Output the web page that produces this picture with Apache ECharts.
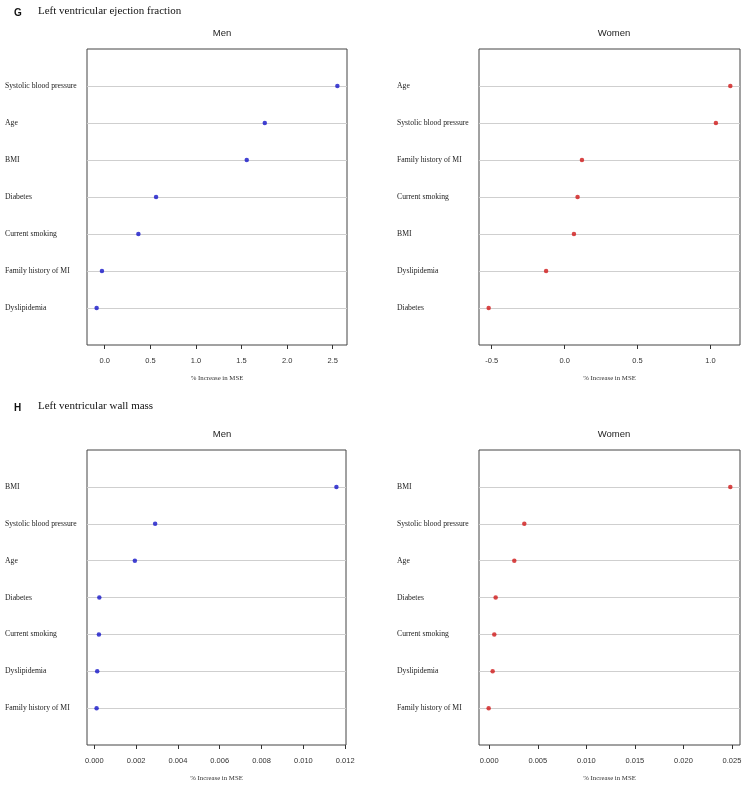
<!DOCTYPE html>
<html>
<head>
<meta charset="utf-8">
<script src="https://cdn.jsdelivr.net/npm/echarts@6/dist/echarts.min.js"></script>
<style>
  html, body { margin: 0; padding: 0; background: #fff; }
  #chart { width: 747px; height: 788px; }
</style>
</head>
<body>
<div id="chart"></div>
<script>
// rows are listed bottom to top (row 1 = bottom line)
var efMenLabels = ['Dyslipidemia', 'Family history of MI', 'Current smoking', 'Diabetes', 'BMI', 'Age', 'Systolic blood pressure'];
var efMenValues = [-0.089, -0.031, 0.369, 0.563, 1.557, 1.755, 2.551];
var efWomenLabels = ['Diabetes', 'Dyslipidemia', 'BMI', 'Current smoking', 'Family history of MI', 'Systolic blood pressure', 'Age'];
var efWomenValues = [-0.521, -0.127, 0.064, 0.089, 0.119, 1.038, 1.137];
var wmMenLabels = ['Family history of MI', 'Dyslipidemia', 'Current smoking', 'Diabetes', 'Age', 'Systolic blood pressure', 'BMI'];
var wmMenValues = [0.00011, 0.00014, 0.00022, 0.00024, 0.00194, 0.00291, 0.01158];
var wmWomenLabels = ['Family history of MI', 'Dyslipidemia', 'Current smoking', 'Diabetes', 'Age', 'Systolic blood pressure', 'BMI'];
var wmWomenValues = [-0.00006, 0.00035, 0.00052, 0.00066, 0.00258, 0.00361, 0.02483];

var efMenTicks = [0, 0.5, 1, 1.5, 2, 2.5];
var efWomenTicks = [-0.5, 0, 0.5, 1];
var wmMenTicks = [0, 0.002, 0.004, 0.006, 0.008, 0.010, 0.012];
var wmWomenTicks = [0, 0.005, 0.010, 0.015, 0.020, 0.025];

var SERIF = '"Liberation Serif", "DejaVu Serif", serif';
var SANS = '"Liberation Sans", Arial, sans-serif';
var BLUE = '#1414c8';
var RED = '#d01818';

var chart = echarts.init(document.getElementById('chart'));

// padded range like R's dotchart (4% on both sides)
function range(vals) {
   var lo = Math.min.apply(null, vals), hi = Math.max.apply(null, vals);
   var pad = (hi - lo) * 0.04;
   return [lo - pad, hi + pad];
}

var panels = [
   {grid: {left: 87, top: 49, width: 260, height: 296}, labels: efMenLabels, values: efMenValues, ticks: efMenTicks, dec: 1, color: BLUE},
   {grid: {left: 479, top: 49, width: 261, height: 296}, labels: efWomenLabels, values: efWomenValues, ticks: efWomenTicks, dec: 1, color: RED},
   {grid: {left: 87, top: 450, width: 259, height: 295}, labels: wmMenLabels, values: wmMenValues, ticks: wmMenTicks, dec: 3, color: BLUE},
   {grid: {left: 479, top: 450, width: 261, height: 295}, labels: wmWomenLabels, values: wmWomenValues, ticks: wmWomenTicks, dec: 3, color: RED}
];

var grids = [], xAxes = [], yAxes = [], series = [];
panels.forEach(function(p, i) {
   var r = range(p.values);
   grids.push(Object.assign({show: true, borderColor: '#444', borderWidth: 1, backgroundColor: '#fff'}, p.grid));
   xAxes.push({
      type: 'value', gridIndex: i, min: r[0], max: r[1],
      axisLine: {show: false},
      splitLine: {show: false},
      axisTick: {show: true, length: 4, customValues: p.ticks, lineStyle: {color: '#333'}},
      axisLabel: {customValues: p.ticks, margin: 12, fontFamily: SANS, fontSize: 7.5, color: '#333',
         formatter: (function(d) { return function(v) { return v.toFixed(d); }; })(p.dec)},
      name: '% Increase in MSE', nameLocation: 'middle', nameGap: 30,
      nameTextStyle: {fontFamily: SERIF, fontSize: 6.8, color: '#333'}
   });
   yAxes.push({
      type: 'value', gridIndex: i, min: 0, max: 8, interval: 1,
      axisLine: {show: false}, axisTick: {show: false}, splitLine: {show: false},
      axisLabel: {align: 'left', margin: 82, fontFamily: SERIF, fontSize: 7.7, color: '#222',
         formatter: (function(labels) { return function(v) { return labels[v - 1] || ''; }; })(p.labels)}
   });
   // grey guide lines for each row, drawn underneath the dots
   series.push({
      type: 'scatter', xAxisIndex: i, yAxisIndex: i, data: [], z: 1,
      markLine: {
         silent: true, symbol: 'none', animation: false,
         label: {show: false},
         lineStyle: {color: '#cfcfcf', width: 1, type: 'solid'},
         data: p.labels.map(function(l, k) { return {yAxis: k + 1}; })
      }
   });
   series.push({
      type: 'scatter', xAxisIndex: i, yAxisIndex: i, symbolSize: 4.5, z: 5,
      itemStyle: {color: p.color, borderWidth: 0},
      data: p.values.map(function(v, k) { return [v, k + 1]; })
   });
});

var option = {
   animation: false,
   backgroundColor: '#fff',
   title: [
      {text: 'G', left: 9, top: 3, textStyle: {fontFamily: SANS, fontWeight: 'bold', fontSize: 10, color: '#111'}},
      {text: 'Left ventricular ejection fraction', left: 33, top: 1, textStyle: {fontFamily: SERIF, fontWeight: 'normal', fontSize: 11, color: '#111'}},
      {text: 'Men', left: 217, top: 23, textAlign: 'center', textStyle: {fontFamily: SANS, fontWeight: 'normal', fontSize: 9.5, color: '#222'}},
      {text: 'Women', left: 609, top: 23, textAlign: 'center', textStyle: {fontFamily: SANS, fontWeight: 'normal', fontSize: 9.5, color: '#222'}},
      {text: 'H', left: 9, top: 398, textStyle: {fontFamily: SANS, fontWeight: 'bold', fontSize: 10, color: '#111'}},
      {text: 'Left ventricular wall mass', left: 33, top: 396, textStyle: {fontFamily: SERIF, fontWeight: 'normal', fontSize: 11, color: '#111'}},
      {text: 'Men', left: 217, top: 424, textAlign: 'center', textStyle: {fontFamily: SANS, fontWeight: 'normal', fontSize: 9.5, color: '#222'}},
      {text: 'Women', left: 609, top: 424, textAlign: 'center', textStyle: {fontFamily: SANS, fontWeight: 'normal', fontSize: 9.5, color: '#222'}}
   ],
   grid: grids,
   xAxis: xAxes,
   yAxis: yAxes,
   series: series
};
chart.setOption(option);
</script>
</body>
</html>
